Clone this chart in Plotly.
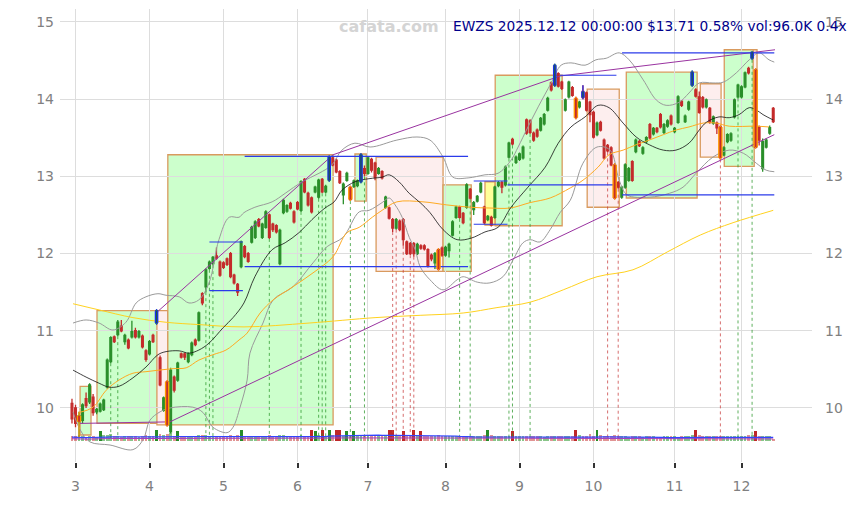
import plotly.graph_objects as go
import pandas as pd

# ---------------- data ----------------
opens = [10.06,10.00,9.82,9.84,10.12,10.08,10.14,9.95,9.96,9.98,
         10.27,10.60,10.92,10.95,11.06,10.86,10.88,10.92,11.00,10.92,
         10.93,10.74,10.70,10.94,11.10,10.65,9.97,10.34,9.69,10.40,
         10.36,10.70,10.70,10.60,10.69,10.88,10.88,11.48,11.57,11.81,
         11.87,11.97,11.89,11.88,11.93,12.00,11.72,11.60,11.83,12.09,
         12.00,12.15,12.21,12.44,12.21,12.34,12.50,12.38,12.36,11.87,
         12.53,12.55,12.65,12.54,12.66,12.56,12.96,12.78,12.72,12.80,
         12.73,12.96,12.80,12.95,13.24,13.21,13.06,12.76,12.95,12.86,
         12.87,12.88,12.93,13.10,13.04,13.22,13.17,13.04,13.06,12.60,
         12.59,12.44,12.33,12.42,12.44,12.15,12.13,12.13,12.00,12.10,
         12.10,12.05,11.98,11.88,12.05,12.07,11.98,12.04,12.24,12.47,
         12.60,12.52,12.60,12.83,12.57,12.68,12.80,12.60,12.44,12.47,
         12.47,12.88,12.92,12.89,13.25,13.48,13.18,13.22,13.24,13.73,
         13.72,13.56,13.60,13.60,13.68,13.86,14.21,14.18,14.33,14.22,
         13.86,14.03,14.15,14.01,13.90,14.10,14.08,13.96,13.83,13.54,
         13.70,13.47,13.40,13.37,13.15,12.92,12.73,12.86,12.95,13.19,
         13.32,13.45,13.30,13.45,13.67,13.55,13.62,13.80,13.57,13.65,
         13.78,13.58,13.70,13.97,13.71,13.87,14.18,14.12,14.03,14.02,
         13.90,13.88,13.69,13.69,13.64,13.28,13.45,13.47,13.77,14.03,
         14.03,14.16,14.40,14.53,14.38,13.64,13.10,13.38,13.56,13.88]
highs = [10.12,10.04,9.95,10.06,10.20,10.32,10.18,10.00,10.07,10.12,
         10.64,10.93,10.94,11.14,11.14,10.96,10.90,11.13,11.04,11.01,
         10.95,10.76,10.88,10.96,11.28,10.68,10.15,10.36,10.52,10.42,
         10.60,10.72,10.72,10.72,10.86,10.90,11.25,11.50,11.81,11.91,
         11.97,12.08,11.91,11.90,11.95,12.02,11.74,11.62,12.17,12.11,
         12.02,12.36,12.43,12.46,12.40,12.56,12.52,12.40,12.38,12.32,
         12.71,12.64,12.67,12.56,12.68,12.95,12.98,12.80,12.74,12.88,
         12.97,12.98,12.89,13.27,13.26,13.23,13.08,12.92,13.06,12.88,
         12.96,12.96,13.30,13.14,13.26,13.24,13.19,13.12,13.08,12.75,
         12.61,12.46,12.46,12.44,12.46,12.17,12.15,12.15,12.14,12.12,
         12.12,12.07,12.00,12.02,12.07,12.09,12.10,12.14,12.43,12.62,
         12.62,12.54,12.91,12.85,12.68,12.76,12.93,12.62,12.50,12.49,
         12.88,12.94,12.94,13.14,13.45,13.50,13.27,13.31,13.40,13.75,
         13.74,13.58,13.62,13.77,13.82,14.03,14.23,14.46,14.35,14.24,
         14.01,14.24,14.17,14.03,13.98,14.18,14.10,13.98,13.85,13.71,
         13.72,13.49,13.42,13.39,13.17,12.94,12.88,13.17,13.12,13.21,
         13.49,13.47,13.39,13.52,13.69,13.64,13.64,13.82,13.69,13.74,
         13.80,13.64,14.05,13.99,13.80,13.98,14.37,14.14,14.10,14.04,
         14.01,13.90,13.79,13.71,13.66,13.39,13.56,13.57,14.01,14.20,
         14.18,14.36,14.42,14.62,14.40,13.66,13.49,13.49,13.66,13.90]
lows = [9.80,9.75,9.62,9.80,10.00,10.05,9.90,9.92,9.94,9.96,
        10.25,10.58,10.84,10.93,10.98,10.82,10.76,10.90,10.90,10.90,
        10.77,10.60,10.68,10.84,11.08,10.28,9.95,9.76,9.67,10.20,
        10.34,10.64,10.62,10.58,10.67,10.80,10.86,11.33,11.50,11.79,
        11.85,11.92,11.70,11.80,11.84,11.68,11.60,11.45,11.81,11.94,
        11.88,12.13,12.19,12.34,12.19,12.32,12.19,12.28,12.26,11.85,
        12.51,12.53,12.57,12.39,12.56,12.54,12.78,12.61,12.52,12.78,
        12.71,12.78,12.78,12.93,13.13,13.04,12.90,12.64,12.93,12.68,
        12.85,12.86,12.91,13.00,13.02,13.05,12.95,13.02,12.96,12.58,
        12.44,12.28,12.31,12.29,12.10,11.98,11.98,11.96,11.98,12.05,
        12.04,11.82,11.90,11.80,11.78,11.96,11.96,11.95,12.22,12.45,
        12.45,12.38,12.58,12.70,12.50,12.66,12.78,12.38,12.42,12.35,
        12.45,12.86,12.78,12.87,13.23,13.40,13.16,13.20,13.22,13.54,
        13.55,13.45,13.50,13.58,13.66,13.84,14.10,14.16,14.15,14.12,
        13.84,14.01,14.03,13.74,13.88,14.00,13.84,13.70,13.49,13.52,
        13.58,13.22,13.31,13.13,12.70,12.84,12.71,12.84,12.93,12.93,
        13.30,13.38,13.28,13.43,13.48,13.53,13.56,13.62,13.55,13.63,
        13.66,13.56,13.68,13.90,13.69,13.85,14.16,14.02,13.81,13.88,
        13.88,13.68,13.67,13.55,13.22,13.26,13.43,13.45,13.75,14.01,
        14.01,14.14,14.32,14.51,13.36,13.40,13.06,13.36,13.54,13.69]
closes = [9.86,9.80,9.90,10.04,10.03,10.30,9.94,9.98,10.05,10.10,
          10.62,10.91,10.86,11.11,11.00,10.94,10.78,10.99,10.92,10.99,
          10.79,10.63,10.86,10.86,11.26,10.30,10.13,9.78,10.49,10.23,
          10.58,10.66,10.66,10.70,10.84,10.82,11.23,11.36,11.79,11.89,
          11.95,11.94,11.72,11.82,11.86,11.70,11.62,11.50,12.15,11.96,
          11.90,12.34,12.41,12.36,12.38,12.54,12.21,12.31,12.28,12.30,
          12.69,12.62,12.59,12.41,12.58,12.93,12.80,12.63,12.54,12.86,
          12.95,12.80,12.87,13.25,13.15,13.06,12.92,12.90,13.04,12.70,
          12.94,12.94,13.28,13.04,13.24,13.08,12.99,13.10,12.98,12.73,
          12.46,12.33,12.44,12.31,12.18,12.00,12.00,12.00,12.12,12.07,
          12.06,11.84,11.93,12.00,11.80,11.98,12.08,12.12,12.41,12.60,
          12.47,12.40,12.89,12.72,12.66,12.74,12.91,12.40,12.48,12.37,
          12.86,12.92,12.86,13.12,13.43,13.42,13.25,13.29,13.38,13.56,
          13.57,13.47,13.52,13.75,13.80,14.01,14.12,14.44,14.17,14.14,
          13.99,14.22,14.05,13.76,13.96,14.02,13.86,13.80,13.51,13.69,
          13.60,13.24,13.33,13.15,12.72,12.86,12.86,13.15,13.10,12.95,
          13.47,13.40,13.37,13.50,13.50,13.62,13.58,13.64,13.67,13.72,
          13.68,13.62,14.03,13.92,13.78,13.96,14.35,14.04,13.83,13.90,
          13.99,13.70,13.77,13.63,13.24,13.37,13.54,13.55,13.99,14.18,
          14.16,14.34,14.34,14.61,13.38,13.47,13.45,13.47,13.63,13.71]
volumes_k = [210,190,230,180,170,200,190,160,380,220,
             240,260,200,180,170,190,210,200,180,170,
             190,220,200,180,420,260,230,280,300,210,
             400,200,190,180,170,160,220,250,240,210,
             200,180,190,170,200,230,210,220,410,200,
             190,210,200,180,170,190,230,200,190,240,
             220,200,180,190,200,230,210,190,430,400,
             220,420,200,440,230,410,420,200,400,210,
             390,200,240,190,180,200,210,190,180,200,
             420,410,200,190,400,210,220,430,200,380,
             190,180,200,190,230,200,180,190,210,200,
             190,180,200,210,190,180,200,230,420,240,
             200,190,180,200,210,400,190,180,200,190,
             180,200,190,180,170,210,200,190,180,200,
             190,180,200,420,240,200,190,260,210,410,
             220,200,190,180,250,200,190,180,170,200,
             190,180,170,200,190,180,170,160,180,190,
             200,180,170,190,200,210,230,420,250,190,
             200,210,190,180,200,190,180,200,190,210,
             180,200,250,230,400,210,190,200,180,96]

month_tick_idx = [1, 22, 43, 64, 84, 106, 127, 148, 171, 190]
month_tick_text = ["3", "4", "5", "6", "7", "8", "9", "10", "11", "12"]

orange_idx = [2, 27, 79, 104, 143, 154, 184, 194]
blue_idx = [24, 73, 82, 137, 145, 176, 193]

ma20_x = [0.3,4,7.7,10.5,13.3,17.3,21,24.4,26.7,30.4,33.2,36,38.9,42.9,45.7,48.8,51.9,56.8,60.5,64.4,
          68.1,71.8,74.4,76.6,80.3,84.3,88,90,92.8,95.7,98.8,101.6,105.3,109.3,113.3,117.2,120.9,124.6,
          129.4,134.3,138,141.6,145.6,149.3,152.4,156.4,160.1,163.8,167.8,171.4,175.1,178,180,183.6,
          186.5,189.3,192.2,194.2,196.1,199]
ma20_y = [10.49,10.40,10.32,10.27,10.28,10.39,10.53,10.69,10.73,10.74,10.71,10.75,10.84,11.04,11.17,
          11.36,11.70,12.05,12.14,12.27,12.44,12.59,12.67,12.82,12.93,12.97,12.99,13.02,12.93,12.78,
          12.66,12.53,12.31,12.18,12.20,12.28,12.34,12.60,12.86,13.12,13.43,13.64,13.77,13.92,13.89,
          13.69,13.51,13.41,13.34,13.34,13.43,13.60,13.70,13.77,13.76,13.80,13.89,13.86,13.80,13.73]

bbu_x = [0.3,4,7.7,11.6,15.3,18.2,21,24.4,26.7,30.4,33.2,36,38.9,41.7,44.6,47.4,48.8,51.9,56.8,60.5,
         65.3,70.1,73.8,76.6,80.3,84.6,92.2,97.9,101.6,105.3,108.1,112.4,117.2,120.9,124.6,126.6,
         129.4,132.3,136,138.8,141.6,145.6,148.7,151.6,155.3,158.1,162.1,165.8,168.6,172.3,175.1,
         178,181.9,184.8,188.5,192.2,195,197.8,199.3]
bbu_y = [11.10,11.14,11.10,11.01,11.11,11.36,11.44,11.48,11.46,11.44,11.36,11.40,11.62,12.18,12.47,
         12.47,12.53,12.60,12.67,12.78,12.93,13.04,13.15,13.34,13.43,13.38,13.47,13.51,13.47,13.25,
         12.99,12.98,13.02,13.04,13.21,13.38,13.64,13.90,14.21,14.44,14.47,14.44,14.51,14.53,14.60,
         14.51,14.25,13.99,13.92,13.96,14.08,14.21,14.21,14.22,14.34,14.51,14.60,14.51,14.48]

bbl_x = [0.3,2.3,5.1,10.8,17.3,20.2,22.1,25,27.8,34.3,37.2,40,44,45.7,47.7,49.7,50.5,54.2,57.1,62.7,
         68.4,72.4,76.9,81.5,84.3,88,90,91.7,93.7,95.7,97.4,98.8,101.6,105.3,109.3,111,115,118.6,
         122.3,125.2,128,130,132.8,135.7,138.5,141.4,145,149,152.7,155.3,157.5,163.8,169.5,173.4,
         177.1,181.9,186.5,190.5,194.2,197,199.3]
bbl_y = [9.95,9.72,9.56,9.52,9.46,9.59,9.84,9.95,10.00,10.01,9.94,9.75,9.68,9.75,10.01,10.36,10.71,
         11.10,11.40,11.57,11.88,12.09,12.21,12.54,12.56,12.66,12.72,12.63,12.47,12.21,12.05,11.83,
         11.66,11.53,11.66,11.70,11.63,11.62,11.70,11.92,12.14,12.18,12.15,12.31,12.53,12.69,13.17,
         13.38,13.34,12.95,12.76,12.73,12.78,12.86,13.04,13.25,13.34,13.30,13.17,13.08,13.06]

ma50_x = [2,6,9.7,13.3,17.3,21,24.7,28.7,32.4,36,40,43.7,47.4,49.7,53.4,57.1,62.7,68.4,74.1,78,81.5,
          85.2,88,92.2,99.6,106.4,113,118.6,124.3,130,135.7,141.4,145,149.3,152.4,156.4,160.1,163.8,
          167.8,171.4,175.1,179.1,182.8,186.5,194.2,197.8]
ma50_y = [9.94,10.01,10.23,10.36,10.45,10.47,10.49,10.51,10.52,10.62,10.69,10.75,10.88,10.97,11.23,
          11.40,11.57,11.75,11.96,12.27,12.34,12.47,12.56,12.67,12.67,12.63,12.60,12.59,12.59,12.66,
          12.72,12.85,12.95,13.12,13.28,13.34,13.41,13.47,13.54,13.60,13.64,13.69,13.69,13.65,13.65,
          13.64]

ma200_x = [0.3,7.7,17.3,26.7,36,48.8,67.3,86,98.8,111,120.6,130,139.4,149,159.2,168.9,178.3,187.6,199]
ma200_y = [11.35,11.27,11.17,11.11,11.08,11.05,11.10,11.17,11.20,11.23,11.30,11.37,11.53,11.70,11.79,
           12.02,12.24,12.40,12.56]

# zones (index from/to, price top/bottom, kind)
box_x0 = [2.3, 7.1, 24.1, 27.2, 80.3, 86.3, 105.3, 117.2, 120.1, 146.2, 157.3, 178.3, 185.1, 193.3]
box_x1 = [5.4, 27.2, 27.2, 74.1, 83.5, 105.3, 113.3, 120.1, 139.1, 155.3, 177.4, 184.2, 193.6, 194.4]
box_top = [10.28, 11.26, 11.26, 13.28, 13.29, 13.25, 12.89, 12.93, 14.31, 14.13, 14.35, 14.20, 14.64, 14.64]
box_bot = [9.65, 9.80, 9.78, 9.78, 12.68, 11.77, 11.77, 12.37, 12.36, 12.60, 12.72, 13.25, 13.13, 13.38]
box_kind = ["up", "up", "down", "up", "up", "down", "up", "flat", "up", "down", "up", "down", "up", "down"]

# horizontal levels
hl_x0 = [49, 39, 39, 49, 114, 114, 123.6, 138.5, 156.1, 156.1]
hl_x1 = [112.4, 48.5, 48.5, 112.4, 123.6, 123.6, 154.5, 154.5, 199.3, 199.3]
hl_y = [13.26, 12.15, 11.52, 11.83, 12.94, 12.38, 12.89, 14.31, 14.60, 12.76]

# channel lines
chan_up_x = [24.1, 74.1, 138.5, 199.5]
chan_up_y = [11.24, 13.28, 14.30, 14.64]
chan_lo_x = [2.3, 27.8, 199.3]
chan_lo_y = [9.80, 9.82, 13.54]

green_marks = [11, 13, 38, 39, 40, 56, 65, 70, 71, 72, 79, 83, 110, 113, 124, 125, 130, 189, 193]
red_marks = [91, 92, 94, 96, 97, 152, 155, 184]

title_text = "EWZS 2025.12.12 00:00:00 $13.71 0.58% vol:96.0K 0.4x"

# ---------------- figure ----------------
n = len(closes)
idx = list(range(n))
GREEN = "#2a8f2a"
RED = "#c42b2b"

fig = go.Figure()

fills = {"up": "#ccffcc", "down": "#fdeeee", "flat": "#ffff99"}
for x0, x1, t, b, k in zip(box_x0, box_x1, box_top, box_bot, box_kind):
    fig.add_shape(type="rect", xref="x", yref="y", x0=x0, x1=x1, y0=b, y1=t,
                  fillcolor=fills[k], line=dict(color="#d99a5e", width=1.3), layer="below")

def seg_trace(xs0, xs1, ys0, ys1, color, width, dash=None):
    X, Y = [], []
    for a, b_, c, d in zip(xs0, xs1, ys0, ys1):
        X += [a, b_, None]
        Y += [c, d, None]
    return go.Scatter(x=X, y=Y, mode="lines", line=dict(color=color, width=width, dash=dash),
                      hoverinfo="skip", showlegend=False)

# vertical dotted marks
fig.add_trace(seg_trace(green_marks, green_marks, [lows[i] for i in green_marks],
                        [9.6] * len(green_marks), "rgba(40,150,40,0.75)", 1, "dot"))
fig.add_trace(seg_trace(red_marks, red_marks, [lows[i] for i in red_marks],
                        [9.6] * len(red_marks), "rgba(200,60,60,0.75)", 1, "dot"))

# bollinger & MAs
for xs, ys, col, w in [(bbu_x, bbu_y, "#9a9a9a", 1), (bbl_x, bbl_y, "#9a9a9a", 1),
                       (ma200_x, ma200_y, "#ffd21f", 1), (ma50_x, ma50_y, "#ffaa22", 1),
                       (ma20_x, ma20_y, "#111111", 0.8)]:
    fig.add_trace(go.Scatter(x=xs, y=ys, mode="lines", line=dict(color=col, width=w, shape="spline"),
                             hoverinfo="skip", showlegend=False))

# channel lines
fig.add_trace(go.Scatter(x=chan_up_x, y=chan_up_y, mode="lines", line=dict(color="#9933a0", width=1),
                         hoverinfo="skip", showlegend=False))
fig.add_trace(go.Scatter(x=chan_lo_x, y=chan_lo_y, mode="lines", line=dict(color="#9933a0", width=1),
                         hoverinfo="skip", showlegend=False))

# horizontal levels
fig.add_trace(seg_trace(hl_x0, hl_x1, hl_y, hl_y, "#2b3bea", 1.2))

# volume band at the bottom
VB = 9.57
VH = 0.15
vmax = max(volumes_k)
vavg = sum(volumes_k) / n
vol_h = [v / vmax * VH for v in volumes_k]
vol_col = []
for o, c, v in zip(opens, closes, volumes_k):
    up = c >= o
    strong = v > 1.5 * vavg
    if up:
        vol_col.append("rgba(40,140,40,1)" if strong else "rgba(40,150,40,0.55)")
    else:
        vol_col.append("rgba(190,40,40,1)" if strong else "rgba(200,60,60,0.55)")
fig.add_trace(go.Bar(x=idx, y=vol_h, base=VB, marker=dict(color=vol_col, line=dict(width=0)),
                     width=0.8, hoverinfo="skip", showlegend=False))
vs = pd.Series(volumes_k)
vma = (vs.rolling(20, min_periods=1).mean() / vmax * VH + VB - 0.02).tolist()
vma2 = (vs.rolling(50, min_periods=1).mean() / vmax * VH + VB - 0.04).tolist()
fig.add_trace(go.Scatter(x=idx, y=vma2, mode="lines", line=dict(color="#a040c0", width=1),
                         hoverinfo="skip", showlegend=False))
fig.add_trace(go.Scatter(x=idx, y=vma, mode="lines", line=dict(color="#3344ff", width=1.2),
                         hoverinfo="skip", showlegend=False))

# candles
fig.add_trace(go.Candlestick(x=idx, open=opens, high=highs, low=lows, close=closes,
                             increasing=dict(line=dict(color=GREEN, width=1.3), fillcolor=GREEN),
                             decreasing=dict(line=dict(color=RED, width=1.3), fillcolor=RED),
                             whiskerwidth=0, showlegend=False))

# highlighted candles
def body_trace(ids, color, width):
    X, Y = [], []
    for i in ids:
        X += [i, i, None]
        Y += [opens[i], closes[i], None]
    return go.Scatter(x=X, y=Y, mode="lines", line=dict(color=color, width=width),
                      hoverinfo="skip", showlegend=False)

def wick_trace(ids, color, width):
    X, Y = [], []
    for i in ids:
        X += [i, i, None]
        Y += [lows[i], highs[i], None]
    return go.Scatter(x=X, y=Y, mode="lines", line=dict(color=color, width=width),
                      hoverinfo="skip", showlegend=False)

fig.add_trace(wick_trace(orange_idx, "#ff9900", 1.2))
fig.add_trace(body_trace(orange_idx, "#ff9900", 4.5))
fig.add_trace(body_trace(orange_idx, RED, 1.8))
fig.add_trace(wick_trace(blue_idx, "#1a2cf0", 1.2))
fig.add_trace(body_trace(blue_idx, "#1a2cf0", 3.6))
fig.add_trace(body_trace(blue_idx, "#1d5f3a", 1.2))

# invisible trace to show right-hand axis
fig.add_trace(go.Scatter(x=idx, y=closes, yaxis="y2", mode="lines", opacity=0,
                         hoverinfo="skip", showlegend=False))

YR = [9.30, 15.168]
fig.update_layout(
    width=843, height=489,
    margin=dict(l=52, r=39, t=1, b=35),
    paper_bgcolor="white", plot_bgcolor="white",
    font=dict(family="DejaVu Sans", color="#808080", size=14),
    showlegend=False,
    xaxis=dict(range=[-3.4, 210], tickmode="array", tickvals=month_tick_idx, ticktext=month_tick_text,
               showgrid=True, gridcolor="#dddddd", gridwidth=1, zeroline=False, showline=False,
               ticks="outside", ticklen=5, tickcolor="#333333", tickwidth=1.5,
               rangeslider=dict(visible=False), tickfont=dict(size=14, color="#808080"),
               ticklabelstandoff=6),
    yaxis=dict(range=YR, tickvals=[10, 11, 12, 13, 14, 15], showgrid=True, gridcolor="#dddddd",
               gridwidth=1, zeroline=False, showline=False, ticks="", tickfont=dict(size=14, color="#808080"),
               ticklabelstandoff=5),
    yaxis2=dict(range=YR, overlaying="y", side="right", tickvals=[10, 11, 12, 13, 14, 15], showgrid=False,
                zeroline=False, showline=False, ticks="", tickfont=dict(size=14, color="#808080"),
                ticklabelstandoff=12),
    bargap=0,
    annotations=[
        dict(text="<b>cafata.com</b>", xref="paper", yref="paper", x=0.4375, y=0.962,
             xanchor="center", yanchor="middle", showarrow=False,
             font=dict(size=16, color="#d4d4d4", family="DejaVu Sans")),
        dict(text=title_text, xref="paper", yref="paper", x=1.049, y=0.962,
             xanchor="right", yanchor="middle", showarrow=False,
             font=dict(size=13.75, color="#00008b", family="DejaVu Sans")),
    ],
)

fig.write_html("out.html")
